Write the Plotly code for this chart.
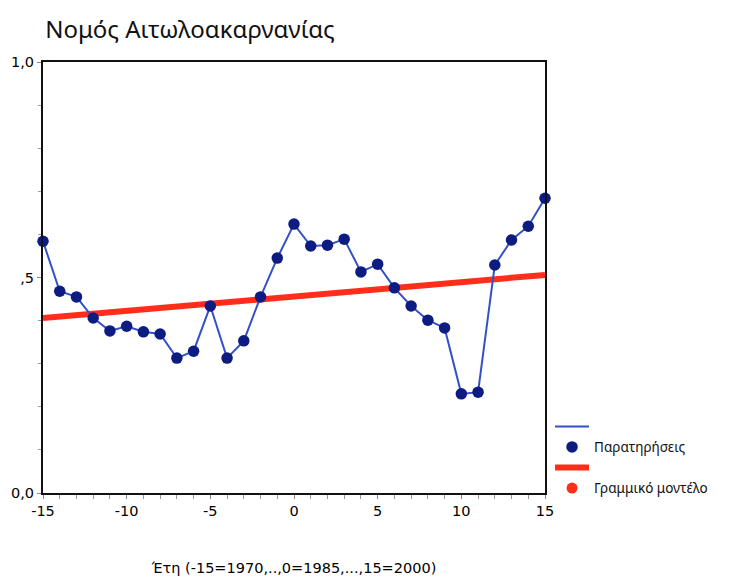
import plotly.graph_objects as go

years = list(range(-15, 16))
observed = [0.584, 0.468, 0.455, 0.406, 0.376, 0.387, 0.374, 0.369, 0.313, 0.329,
            0.434, 0.313, 0.353, 0.455, 0.545, 0.624, 0.573, 0.575, 0.589, 0.513,
            0.531, 0.476, 0.434, 0.401, 0.383, 0.230, 0.234, 0.529, 0.587, 0.619, 0.684]
model_x = [-15, 15]
model_y = [0.406, 0.506]

y_tickvals = [0, 0.5, 1.0]
y_ticktext = ["0,0", ",5", "1,0"]
x_tickvals = [-15, -10, -5, 0, 5, 10, 15]
x_ticktext = ["-15", "-10", "-5", "0", "5", "10", "15"]

fig = go.Figure()
fig.add_trace(go.Scatter(x=model_x, y=model_y, mode="lines",
                         line=dict(color="#ff2e1a", width=6), showlegend=False,
                         cliponaxis=False, hoverinfo="skip"))
fig.add_trace(go.Scatter(x=years, y=observed, mode="lines",
                         line=dict(color="#3350c8", width=2), name=" ",
                         legendrank=1, cliponaxis=False))
fig.add_trace(go.Scatter(x=years, y=observed, mode="markers",
                         marker=dict(color="#0c1c80", size=11.5), name="Παρατηρήσεις",
                         legendrank=2, cliponaxis=False))
fig.add_trace(go.Scatter(x=[None], y=[None], mode="lines",
                         line=dict(color="#ff2e1a", width=6), name=" ", legendrank=3))
fig.add_trace(go.Scatter(x=[None], y=[None], mode="markers",
                         marker=dict(color="#ff2e1a", size=11), name="Γραμμικό μοντέλο",
                         legendrank=4))

fig.update_layout(
    width=729, height=578,
    paper_bgcolor="white", plot_bgcolor="white",
    margin=dict(l=35, r=192, t=54, b=93),
    title=dict(text="Νομός Αιτωλοακαρνανίας", x=0.051, xanchor="left", y=0.962, yanchor="middle",
               font=dict(family="Noto Sans", size=24, color="#111")),
    font=dict(family="DejaVu Sans", size=14.5, color="#000"),
    legend=dict(x=1.01, xanchor="left", y=0.19, yanchor="top",
                font=dict(family="Noto Sans", size=13.5, color="#111"),
                tracegroupgap=0, itemwidth=34, bgcolor="rgba(0,0,0,0)"),
    showlegend=True,
)
fig.update_xaxes(range=[-15, 15], tickvals=x_tickvals, ticktext=x_ticktext,
                 ticks="outside", ticklen=4, automargin=False,
                 tickcolor="#888", showgrid=False, zeroline=False,
                 showline=True, linecolor="#111", linewidth=2, mirror=True,
                 minor=dict(dtick=1, ticks="outside", ticklen=4, tickcolor="#999"),
                 title=dict(text="Έτη (-15=1970,..,0=1985,...,15=2000)", standoff=44,
                            font=dict(family="DejaVu Sans", size=14.5)))
fig.update_yaxes(range=[0, 1], tickvals=y_tickvals, ticktext=y_ticktext, ticks="outside",
                 ticklen=4, tickcolor="#888", showgrid=False, zeroline=False, automargin=False,
                 showline=True, linecolor="#111", linewidth=2, mirror=True,
                 minor=dict(dtick=0.1, ticks="outside", ticklen=3, tickcolor="#999"))

fig.write_html("out.html")
